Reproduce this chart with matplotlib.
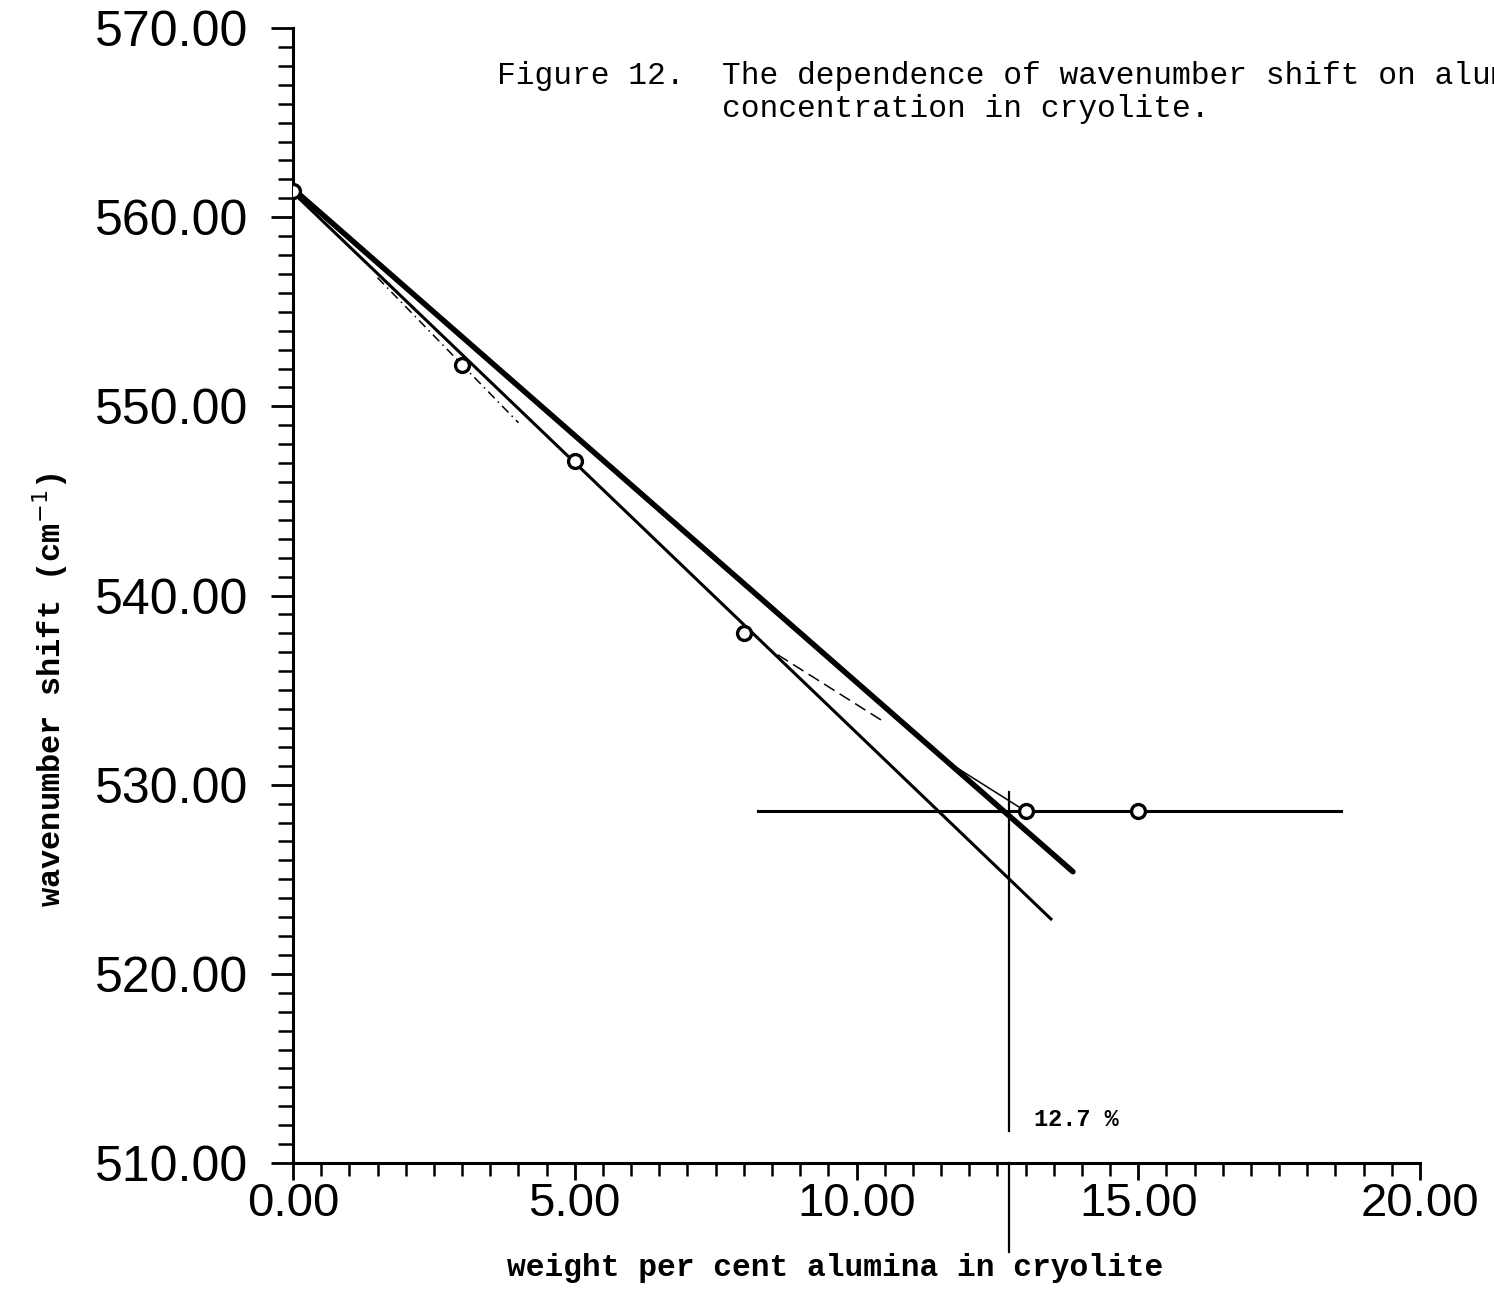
import numpy as np
import matplotlib
matplotlib.use("Agg")
import matplotlib.pyplot as plt
from matplotlib.ticker import MultipleLocator, FormatStrFormatter

# measured points: alumina wt% vs wavenumber shift
conc = [0, 3, 5, 8, 13, 15]
shift = [561.4, 552.2, 547.1, 538.0, 528.6, 528.6]

# hand drawn lines on the original plot
thick_x = [0, 13.84]
thick_y = [561.5, 525.4]
fit_x = [0, 13.45]
fit_y = [561.3, 522.9]
plateau_x = [8.26, 18.6]
plateau_y = [528.6, 528.6]
dashdot_x = [1.5, 4.0]      # extension of points 0 -> 3
dashed_x = [8.6, 10.5]      # points 8 -> 13, dashed part
thin_x = [11.6, 13.0]       # points 8 -> 13, solid part
break_x = 12.7
break_top = 529.6

mono = ['Liberation Mono', 'DejaVu Sans Mono']
sans = ['Liberation Sans', 'DejaVu Sans']

fig = plt.figure(figsize=(14.94, 12.9), dpi=100)
ax = fig.add_axes([293/1494, 1-1163/1290, (1420-293)/1494, (1163-28)/1290])

def through(x0, y0, x1, y1, xs):
    s = (y1 - y0) / (x1 - x0)
    return [y0 + s*(x - x0) for x in xs]

ax.plot(thick_x, thick_y, color='black', lw=4.0, solid_capstyle='round', zorder=3)
ax.plot(fit_x, fit_y, color='black', lw=2.2, zorder=3)
ax.plot(plateau_x, plateau_y, color='black', lw=2.2, zorder=3)
ax.plot(dashdot_x, through(conc[0], shift[0], conc[1], shift[1], dashdot_x),
        color='black', lw=1.1, linestyle=(0, (6, 3, 1, 3)), zorder=2)
ax.plot(dashed_x, through(conc[3], shift[3], conc[4], shift[4], dashed_x),
        color='black', lw=1.1, linestyle=(0, (8, 4)), zorder=2)
ax.plot(thin_x, through(conc[3], shift[3], conc[4], shift[4], thin_x),
        color='black', lw=1.1, zorder=2)
ax.plot([break_x, break_x], [break_top, 511.7], color='black', lw=1.6, zorder=3)
ax.plot([break_x, break_x], [510, 505.3], color='black', lw=1.6, zorder=3, clip_on=False)

ax.plot(conc, shift, linestyle='none', marker='o', ms=10, mfc='white',
        mec='black', mew=2.4, zorder=4)

ax.text(13.15, 511.7, '12.7 %', fontsize=17, fontweight='bold', family=mono,
        va='bottom', ha='left')

ax.set_xlim(0, 20)
ax.set_ylim(510, 570)
for s in ['top', 'right']:
    ax.spines[s].set_visible(False)
for s in ['left', 'bottom']:
    ax.spines[s].set_linewidth(2.2)

ax.xaxis.set_major_locator(MultipleLocator(5))
ax.xaxis.set_minor_locator(MultipleLocator(0.5))
ax.yaxis.set_major_locator(MultipleLocator(10))
ax.yaxis.set_minor_locator(MultipleLocator(1))
ax.xaxis.set_major_formatter(FormatStrFormatter('%.2f'))
ax.yaxis.set_major_formatter(FormatStrFormatter('%.2f'))

ax.tick_params(axis='y', which='major', direction='out', length=16, width=2, pad=16)
ax.tick_params(axis='y', which='minor', direction='out', length=11, width=1.8)
ax.tick_params(axis='x', which='major', direction='out', length=12, width=2, pad=2)
ax.tick_params(axis='x', which='minor', direction='out', length=9, width=1.8)
for lab in ax.get_yticklabels():
    lab.set_family(sans)
    lab.set_fontsize(36)
for lab in ax.get_xticklabels():
    lab.set_family(sans)
    lab.set_fontsize(34)

fig.text(497/1494, 1-61/1290,
         'Figure 12.  The dependence of wavenumber shift on alumina\n'
         '            concentration in cryolite.',
         family=mono, fontsize=22.5, va='top', ha='left', linespacing=1.12)
fig.text(835/1494, 1-1268/1290, 'weight per cent alumina in cryolite',
         family=mono, fontsize=22.5, fontweight='bold', ha='center', va='center')
fig.text(50/1494, 1-690/1290, r'wavenumber shift (cm$^{-1}$)',
         family=mono, fontsize=23, fontweight='bold', rotation=90,
         ha='center', va='center')

fig.savefig('out.png', dpi=100)
